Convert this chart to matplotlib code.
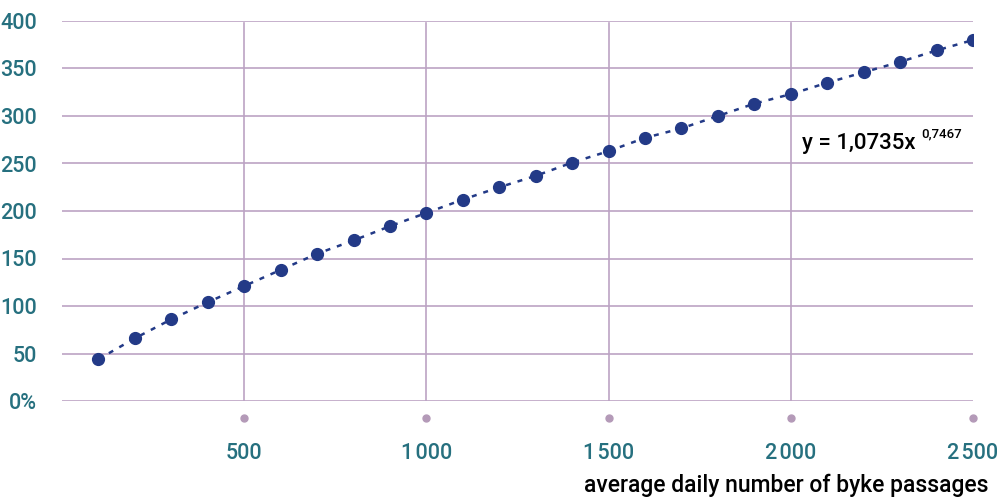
import matplotlib.pyplot as plt
from matplotlib.transforms import blended_transform_factory

plt.rcParams['font.family'] = ['Roboto', 'DejaVu Sans']

# values
passages = [100, 200, 300, 400, 500, 600, 700, 800, 900, 1000,
            1100, 1200, 1300, 1400, 1500, 1600, 1700, 1800, 1900, 2000,
            2100, 2200, 2300, 2400, 2500]
values = [44, 66, 86, 104, 121, 138, 155, 169, 184, 198,
          212, 225, 237, 251, 263, 277, 287, 300, 313, 323,
          335, 346, 357, 369, 380]

x_ticks = [500, 1000, 1500, 2000, 2500]
x_labels = ['500', '1\u200a000', '1\u200a500', '2\u200a000', '2\u200a500']
y_ticks = [0, 50, 100, 150, 200, 250, 300, 350, 400]
y_labels = ['0%', '50', '100', '150', '200', '250', '300', '350', '400']

teal = '#26707f'
grid = '#bca3c4'
navy = '#233a87'

fig = plt.figure(figsize=(9.98, 4.98), dpi=100)
ax = fig.add_axes([62 / 998, 97 / 498, (973 - 62) / 998, (401 - 21) / 498])

ax.set_xlim(0, 2500)
ax.set_ylim(0, 400)

# grid
for y in y_ticks:
    ax.axhline(y, color=grid, lw=1.2, zorder=1)
for x in x_ticks[:-1]:
    ax.plot([x, x], [0, 398], color=grid, lw=1.2, zorder=1)

for s in ax.spines.values():
    s.set_visible(False)

ax.plot(passages, values, color=navy, lw=1.8, dashes=(2, 2.8), zorder=2)
ax.plot(passages, values, 'o', color=navy, ms=8.5, zorder=3)

# small dots under the x ticks
trans = blended_transform_factory(ax.transData, ax.transAxes)
ax.plot(x_ticks, [-0.045] * len(x_ticks), 'o', color='#b49ab8', ms=5,
        transform=trans, clip_on=False)

ax.set_xticks(x_ticks)
ax.set_xticklabels(x_labels)
ax.set_yticks(y_ticks)
ax.set_yticklabels(y_labels)
ax.tick_params(axis='both', length=0, labelsize=15.5, labelcolor=teal)
ax.tick_params(axis='x', pad=30)
ax.tick_params(axis='y', pad=18)
for lab in ax.get_xticklabels() + ax.get_yticklabels():
    lab.set_fontweight('medium')

# fitted curve equation
fig.text(802 / 998, 1 - 143 / 498, 'y = 1,0735x', fontsize=16, fontweight='medium',
         color='black', va='center', ha='left')
fig.text(921 / 998, 1 - 134 / 498, '0,7467', fontsize=9.5, fontweight='medium',
         color='black', va='center', ha='left')

fig.text(988 / 998, 1 - 485 / 498, 'average daily number of byke passages',
         fontsize=16.5, fontweight='medium', color='black', ha='right', va='center')

fig.savefig('out.png', dpi=100)
